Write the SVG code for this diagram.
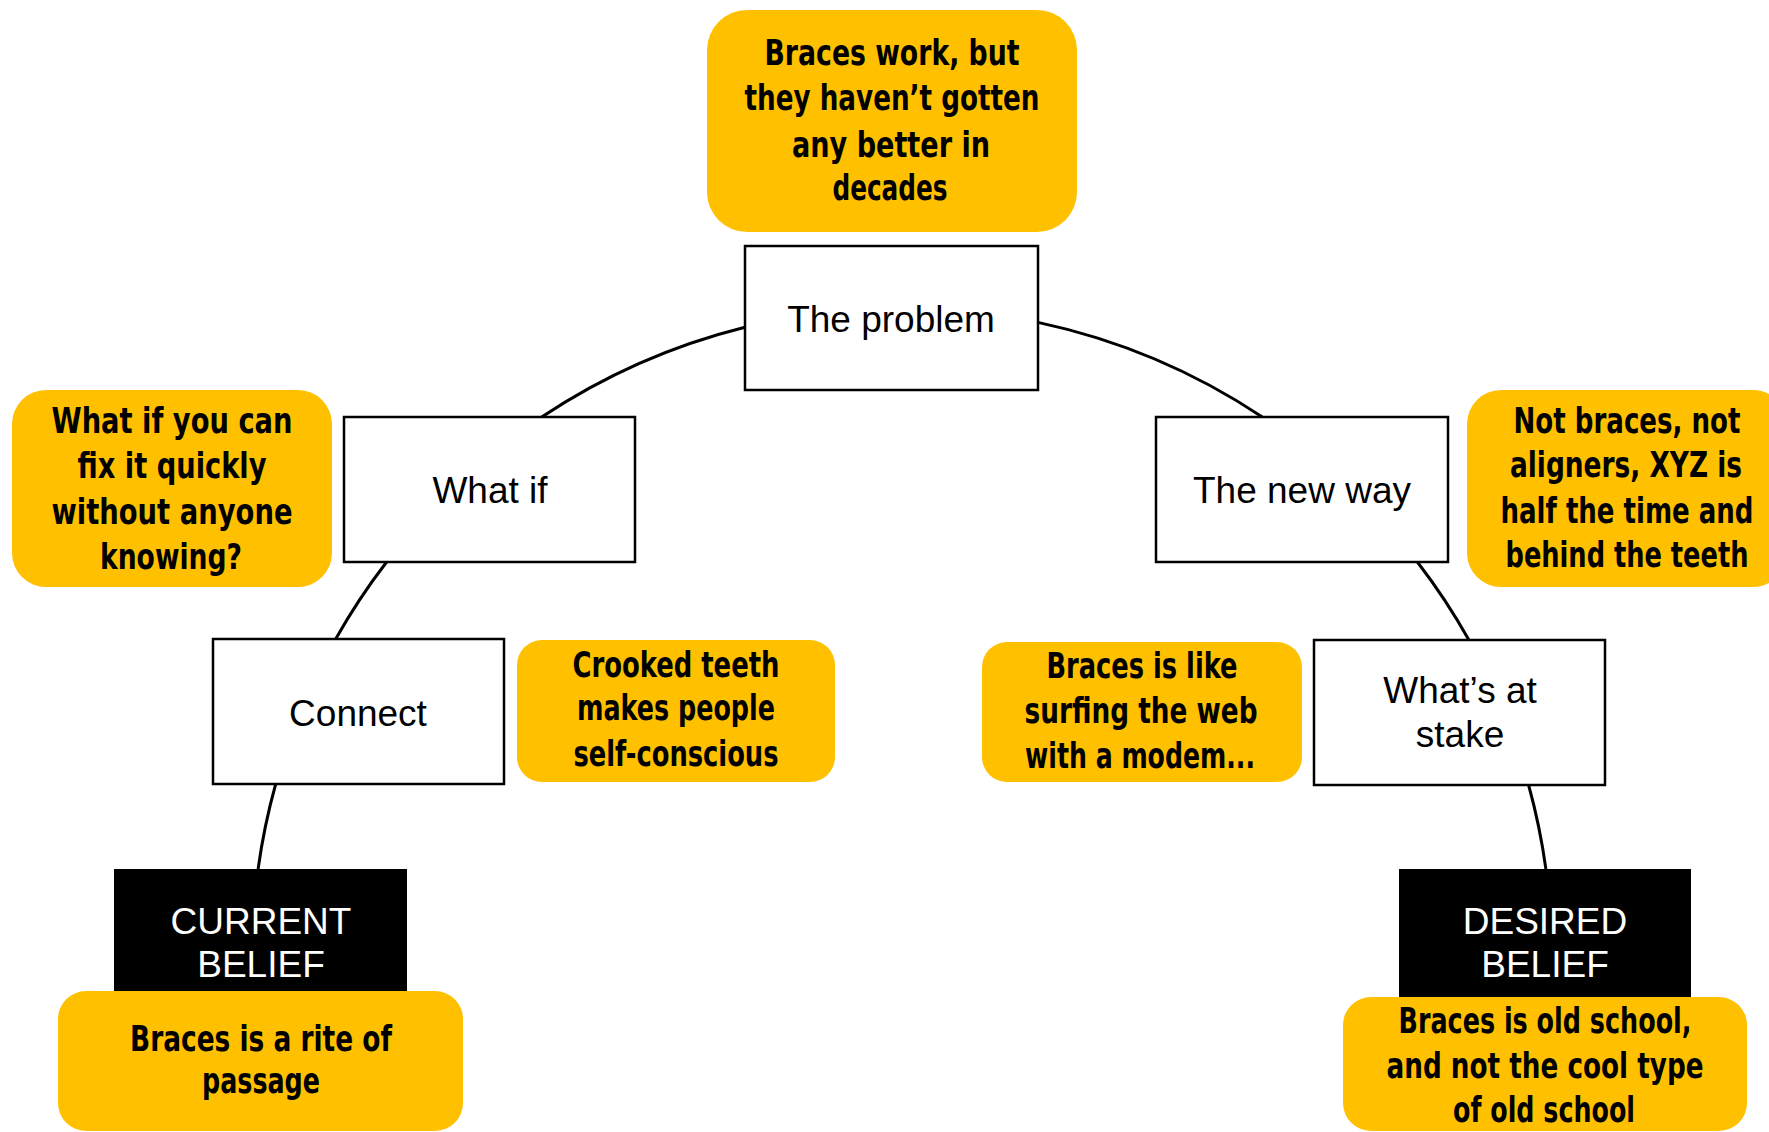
<svg xmlns="http://www.w3.org/2000/svg" width="1769" height="1132" viewBox="0 0 1769 1132">
<style>
.box{fill:#fff;stroke:#000;stroke-width:2.5}
.blk{fill:#000}
.note{fill:#FFC000}
.lbl{font-family:"Liberation Sans",Arial,sans-serif;font-size:37px;fill:#000;text-anchor:middle}
.wlbl{font-family:"Liberation Sans",Arial,sans-serif;font-size:37px;fill:#fff;text-anchor:middle}
.hand{font-family:"Liberation Sans Narrow","DejaVu Sans Condensed","Liberation Sans",sans-serif;font-weight:bold;font-size:36px;fill:#000;text-anchor:middle}
.arc{fill:none;stroke:#000;stroke-width:3}
</style>
<rect width="1769" height="1132" fill="#fff"/>
<g id="connectors">
<path class="arc" d="M 745 327.2 A 650 650 0 0 0 541.7 417"/>
<path class="arc" d="M 386.6 562 A 650 650 0 0 0 335.7 639"/>
<path class="arc" d="M 275.7 784 A 650 650 0 0 0 258.1 869"/>
<path class="arc" d="M 1038 322.4 A 650 650 0 0 1 1262.3 417"/>
<path class="arc" d="M 1417.4 562 A 650 650 0 0 1 1468.9 640"/>
<path class="arc" d="M 1528.6 785 A 650 650 0 0 1 1545.9 869"/>
</g>
<g id="note-problem">
<rect class="note" x="707" y="10" width="370" height="222" rx="40"/>
<text class="hand" x="892" y="65" textLength="255" lengthAdjust="spacingAndGlyphs">Braces work, but</text>
<text class="hand" x="892" y="110" textLength="295" lengthAdjust="spacingAndGlyphs">they haven’t gotten</text>
<text class="hand" x="891" y="157" textLength="198" lengthAdjust="spacingAndGlyphs">any better in</text>
<text class="hand" x="890" y="200" textLength="115" lengthAdjust="spacingAndGlyphs">decades</text>
</g>
<g id="node-problem">
<rect class="box" x="745" y="246" width="293" height="144"/>
<text class="lbl" x="891" y="332">The problem</text>
</g>
<g id="note-whatif">
<rect class="note" x="12" y="390" width="320" height="197" rx="34"/>
<text class="hand" x="172" y="433" textLength="241" lengthAdjust="spacingAndGlyphs">What if you can</text>
<text class="hand" x="172" y="478" textLength="189" lengthAdjust="spacingAndGlyphs">fix it quickly</text>
<text class="hand" x="172" y="524" textLength="241" lengthAdjust="spacingAndGlyphs">without anyone</text>
<text class="hand" x="171" y="569" textLength="142" lengthAdjust="spacingAndGlyphs">knowing?</text>
</g>
<g id="node-whatif">
<rect class="box" x="344" y="417" width="291" height="145"/>
<text class="lbl" x="490" y="503">What if</text>
</g>
<g id="node-newway">
<rect class="box" x="1156" y="417" width="292" height="145"/>
<text class="lbl" x="1302" y="503">The new way</text>
</g>
<g id="note-newway">
<path class="note" d="M 1501 390 H 1753 A 34 34 0 0 1 1769 394 V 583 A 34 34 0 0 1 1753 587 H 1501 A 34 34 0 0 1 1467 553 V 424 A 34 34 0 0 1 1501 390 Z"/>
<text class="hand" x="1627" y="433" textLength="227" lengthAdjust="spacingAndGlyphs">Not braces, not</text>
<text class="hand" x="1626" y="477" textLength="232" lengthAdjust="spacingAndGlyphs">aligners, XYZ is</text>
<text class="hand" x="1627" y="523" textLength="253" lengthAdjust="spacingAndGlyphs">half the time and</text>
<text class="hand" x="1627" y="567" textLength="243" lengthAdjust="spacingAndGlyphs">behind the teeth</text>
</g>
<g id="node-connect">
<rect class="box" x="213" y="639" width="291" height="145"/>
<text class="lbl" x="358" y="726">Connect</text>
</g>
<g id="note-connect">
<rect class="note" x="517" y="640" width="318" height="142" rx="25"/>
<text class="hand" x="676" y="677" textLength="207" lengthAdjust="spacingAndGlyphs">Crooked teeth</text>
<text class="hand" x="676" y="720" textLength="198" lengthAdjust="spacingAndGlyphs">makes people</text>
<text class="hand" x="676" y="766" textLength="205" lengthAdjust="spacingAndGlyphs">self-conscious</text>
</g>
<g id="note-stake">
<rect class="note" x="982" y="642" width="320" height="140" rx="25"/>
<text class="hand" x="1142" y="678" textLength="191" lengthAdjust="spacingAndGlyphs">Braces is like</text>
<text class="hand" x="1141" y="723" textLength="233" lengthAdjust="spacingAndGlyphs">surfing the web</text>
<text class="hand" x="1140" y="768" textLength="230" lengthAdjust="spacingAndGlyphs">with a modem...</text>
</g>
<g id="node-stake">
<rect class="box" x="1314" y="640" width="291" height="145"/>
<text class="lbl" x="1460" y="703">What’s at</text>
<text class="lbl" x="1460" y="747">stake</text>
</g>
<g id="node-current">
<rect class="blk" x="114" y="869" width="293" height="145"/>
<text class="wlbl" x="261" y="934">CURRENT</text>
<text class="wlbl" x="261" y="977">BELIEF</text>
</g>
<g id="note-current">
<rect class="note" x="58" y="991" width="405" height="140" rx="28"/>
<text class="hand" x="261" y="1051" textLength="262" lengthAdjust="spacingAndGlyphs">Braces is a rite of</text>
<text class="hand" x="261" y="1093" textLength="118" lengthAdjust="spacingAndGlyphs">passage</text>
</g>
<g id="node-desired">
<rect class="blk" x="1399" y="869" width="292" height="145"/>
<text class="wlbl" x="1545" y="934">DESIRED</text>
<text class="wlbl" x="1545" y="977">BELIEF</text>
</g>
<g id="note-desired">
<rect class="note" x="1343" y="997" width="404" height="134" rx="28"/>
<text class="hand" x="1545" y="1033" textLength="293" lengthAdjust="spacingAndGlyphs">Braces is old school,</text>
<text class="hand" x="1545" y="1078" textLength="317" lengthAdjust="spacingAndGlyphs">and not the cool type</text>
<text class="hand" x="1544" y="1122" textLength="182" lengthAdjust="spacingAndGlyphs">of old school</text>
</g>
</svg>
